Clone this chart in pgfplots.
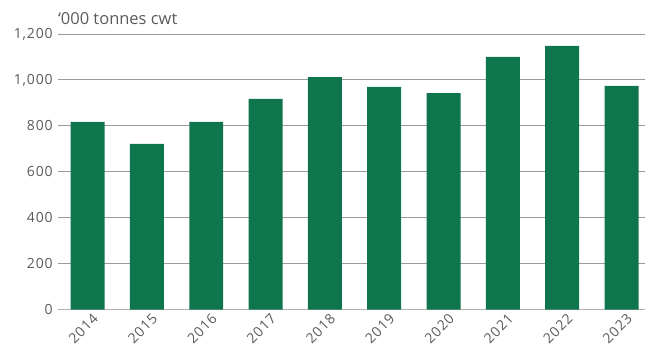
\documentclass[border=0pt]{standalone}
\usepackage{fontspec}
\setmainfont{Open Sans}
\newfontfamily\tickfont[LetterSpace=6]{Open Sans}
\usepackage{pgfplots}
\pgfplotsset{compat=1.18}
\definecolor{bargreen}{RGB}{15,117,76}
\definecolor{txt}{RGB}{90,90,90}
\definecolor{gridc}{RGB}{155,155,155}
\definecolor{axisc}{RGB}{175,175,175}
\begin{document}
\begin{tikzpicture}
\begin{axis}[
  scale only axis, width=588pt, height=276pt,
  ymin=0, ymax=1200, xmin=-0.5, xmax=9.4,
  ybar, bar width=34pt, bar shift=0pt,
  axis y line=left, y axis line style={draw=none},
  axis x line*=bottom, x axis line style={draw=axisc, line width=1.5pt, -},
  ymajorgrids, grid style={draw=gridc, line width=0.9pt},
  ytick={0,200,...,1200},
  /pgf/number format/1000 sep={,},
  /pgf/number format/assume math mode=true,
  tick style={draw=none},
  xtick=data,
  xticklabels={2014,2015,2016,2017,2018,2019,2020,2021,2022,2023},
  xticklabel style={rotate=45, anchor=north east, xshift=5pt, yshift=-1pt, inner sep=1pt},
  yticklabel style={xshift=-1pt, inner sep=2pt},
  tick label style={font=\tickfont\fontsize{14}{16}\selectfont, text=txt},
  clip=false,
]
\addplot[fill=bargreen, draw=none] coordinates {
  (0,817) (1,722) (2,817) (3,917) (4,1012) (5,970) (6,943) (7,1100) (8,1148) (9,974)
};
\node[anchor=base west, text=txt, font=\fontsize{16.5}{18}\selectfont, inner sep=0pt]
  at (rel axis cs:0,1) [xshift=0pt, yshift=9pt] {‘000 tonnes cwt};
\end{axis}
\path (current axis.south west) ++(-58pt,-39pt) rectangle ++(646pt,349pt);
\end{tikzpicture}
\end{document}
